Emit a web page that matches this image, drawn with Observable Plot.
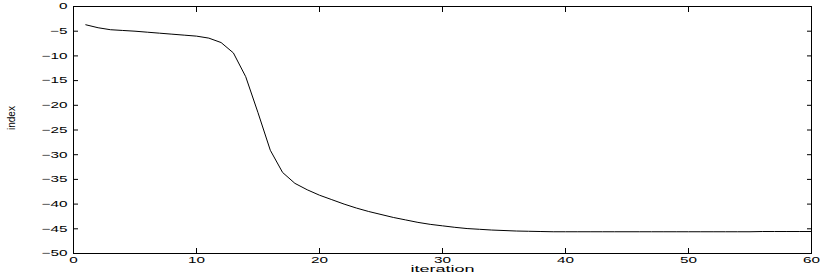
<!DOCTYPE html>
<html>
<head>
<meta charset="utf-8">
<script src="https://cdn.jsdelivr.net/npm/d3@7"></script>
<script src="https://cdn.jsdelivr.net/npm/@observablehq/plot@0.6"></script>
<style>
  html, body { margin: 0; padding: 0; background: #fff; }
  svg { font-family: "Liberation Sans", Helvetica, Arial, sans-serif; }
</style>
</head>
<body>
<div id="chart"></div>
<script>
const iterations = [
  1, 2, 3, 4, 5, 6, 7, 8, 9, 10,
  11, 12, 13, 14, 15, 16, 17, 18, 19, 20,
  21, 22, 23, 24, 25, 26, 27, 28, 29, 30,
  31, 32, 33, 34, 35, 36, 37, 38, 39, 40,
  41, 42, 43, 44, 45, 46, 47, 48, 49, 50,
  51, 52, 53, 54, 55, 56, 57, 58, 59, 60
];
const indexValues = [
  -3.7, -4.3, -4.7, -4.85, -5.0, -5.2, -5.4, -5.6, -5.8, -6.0,
  -6.4, -7.3, -9.4, -14.2, -21.5, -29.1, -33.6, -35.8, -37.1, -38.2,
  -39.1, -40.0, -40.8, -41.5, -42.1, -42.7, -43.2, -43.7, -44.1, -44.4,
  -44.7, -44.95, -45.1, -45.25, -45.35, -45.45, -45.5, -45.55, -45.6, -45.6,
  -45.6, -45.6, -45.6, -45.6, -45.6, -45.6, -45.6, -45.6, -45.6, -45.6,
  -45.6, -45.6, -45.6, -45.6, -45.6, -45.55, -45.55, -45.55, -45.55, -45.55
];
const xTicks = [0, 10, 20, 30, 40, 50, 60];
const yTicks = [0, -5, -10, -15, -20, -25, -30, -35, -40, -45, -50];
const xLabel = "iteration";
const yLabel = "index";

const data = iterations.map((x, i) => ({x, y: indexValues[i]}));
const blank = () => "";

const chart = Plot.plot({
  width: 830,
  height: 273,
  marginLeft: 73,
  marginRight: 19,
  marginTop: 6,
  marginBottom: 20,
  style: {fontSize: "9px", color: "#000", background: "#fff"},
  x: {domain: [0, 60], ticks: xTicks},
  y: {domain: [-50, 0], ticks: yTicks},
  marks: [
    Plot.frame({stroke: "#000", strokeWidth: 1}),
    Plot.axisX(xTicks, {anchor: "bottom", tickSize: -5, tickPadding: 8, label: null}),
    Plot.axisX(xTicks, {anchor: "top", tickSize: -5, tickFormat: blank, label: null}),
    Plot.axisY(yTicks, {anchor: "left", tickSize: -5, tickPadding: 11, label: null}),
    Plot.axisY(yTicks, {anchor: "right", tickSize: -5, tickFormat: blank, label: null}),
    Plot.line(data, {x: "x", y: "y", stroke: "#000", strokeWidth: 1}),
    Plot.text([xLabel], {frameAnchor: "bottom", dy: 18.5, fontSize: 9.5}),
    Plot.text([yLabel], {frameAnchor: "left", dx: -62, rotate: -90, fontSize: 10})
  ]
});

document.getElementById("chart").appendChild(chart);

// stretch lettering horizontally like the reference's wide type
function stretch(el, s) {
  const b = el.getBBox();
  const anchor = el.getAttribute("text-anchor") || getComputedStyle(el).textAnchor;
  const px = anchor === "end" ? b.x + b.width : anchor === "middle" ? b.x + b.width / 2 : b.x;
  const t = el.getAttribute("transform") || "";
  el.setAttribute("transform", `${t} translate(${px},0) scale(${s},1) translate(${-px},0)`.trim());
}
chart.querySelectorAll("g[aria-label$='tick label'] text").forEach(el => stretch(el, 1.7));
chart.querySelectorAll("text").forEach(el => {
  if (el.textContent === xLabel) stretch(el, 1.9);
});
</script>
</body>
</html>
